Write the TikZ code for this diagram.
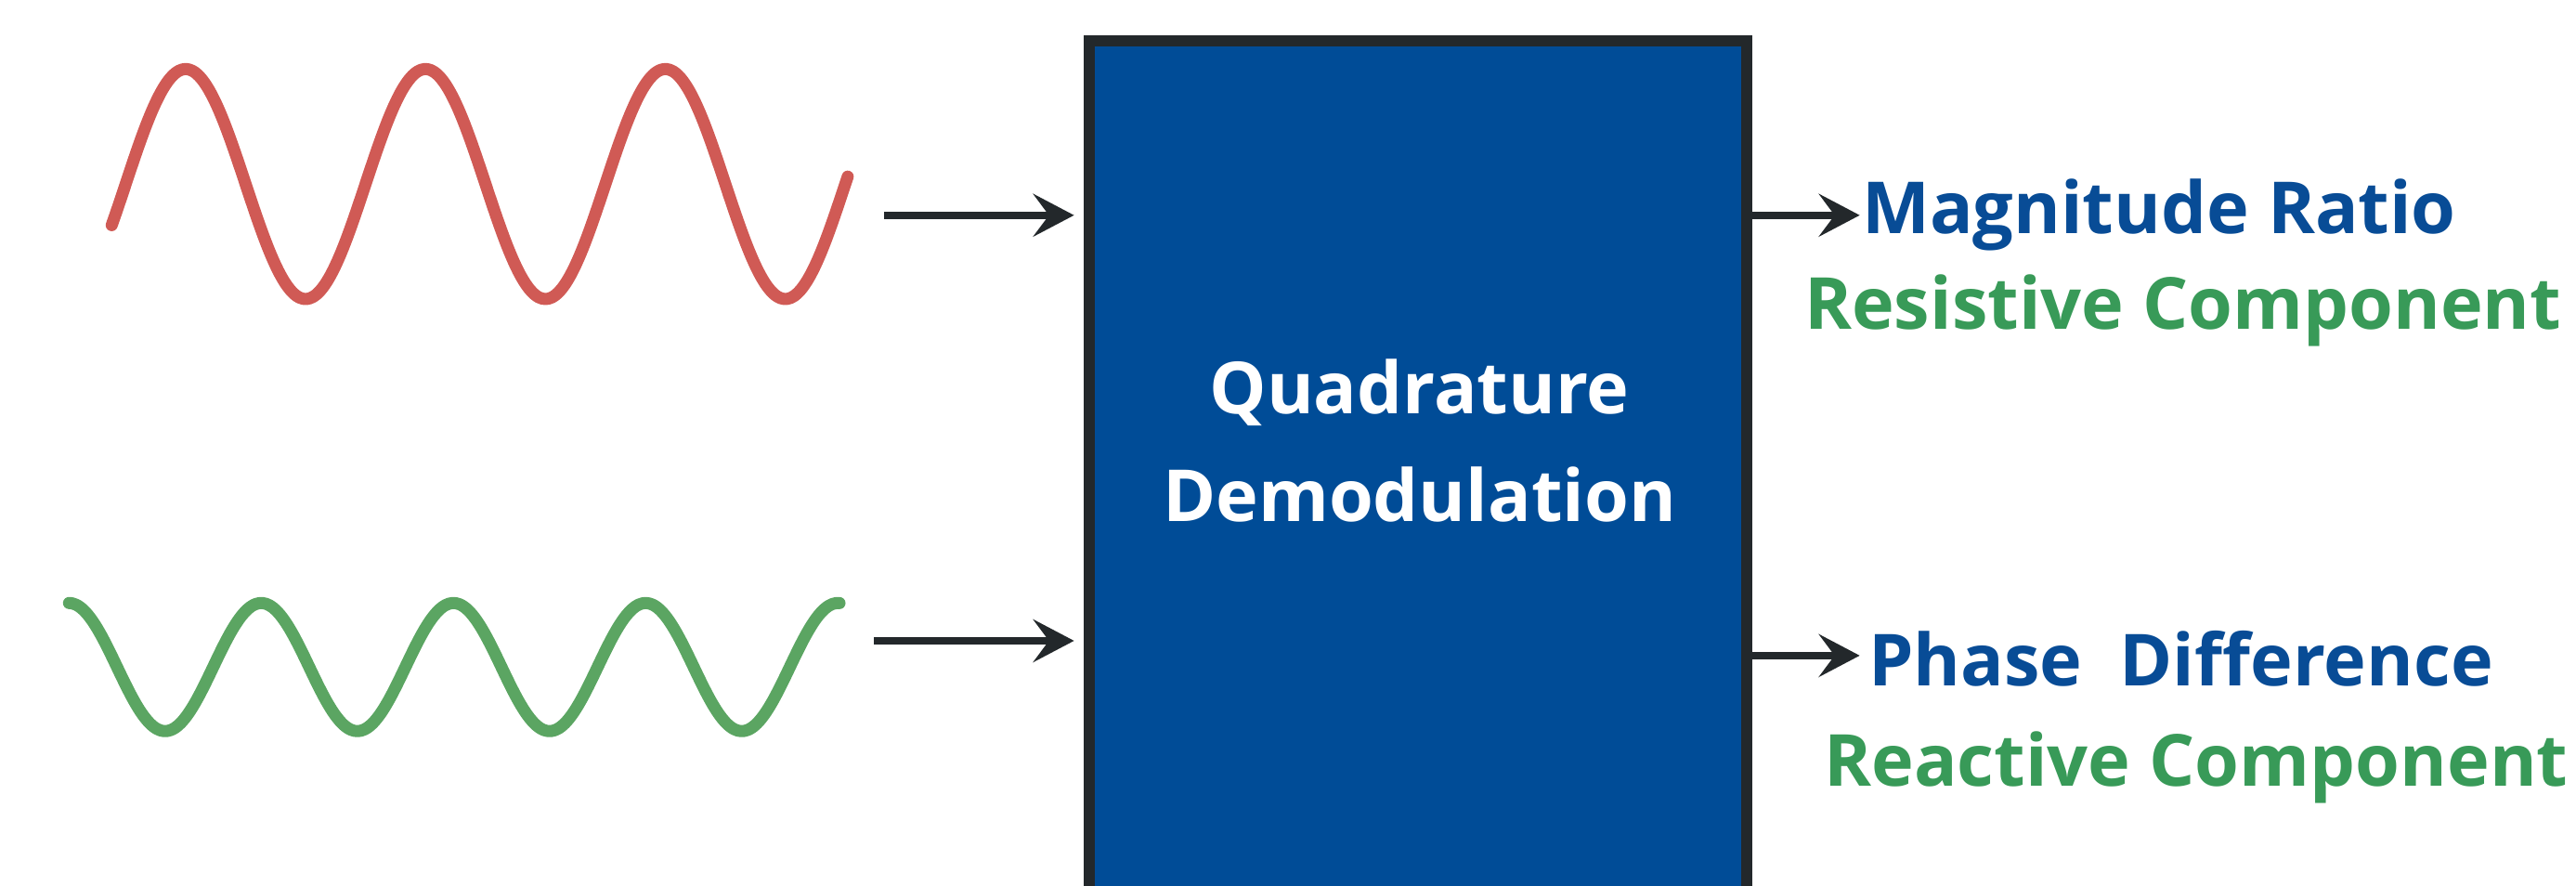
\documentclass[tikz,border=0pt]{standalone}
\usepackage{fontspec}
\setmainfont{Open Sans}
\usetikzlibrary{arrows.meta}
\definecolor{wavered}{RGB}{208,90,85}
\definecolor{wavegreen}{RGB}{91,165,98}
\definecolor{boxblue}{RGB}{0,76,151}
\definecolor{darkline}{RGB}{35,40,43}
\definecolor{txtblue}{RGB}{8,76,150}
\definecolor{txtgreen}{RGB}{56,154,88}
\tikzset{
  wave/.style={line width=3.7pt, line cap=round, line join=round},
  arr/.style={darkline, line width=2.2pt, -{Stealth[length=0.44cm, width=0.46cm, inset=0.17cm]}},
  blockbox/.style={draw=darkline, fill=boxblue, line width=3.4pt, outer sep=0pt, inner sep=0pt,
    minimum width=7.08cm, minimum height=10.4cm, anchor=north},
  blocktext/.style={text=white, font=\bfseries\fontsize{22}{33}\selectfont, align=center},
  outblue/.style={text=txtblue, font=\bfseries\fontsize{22}{26}\selectfont, anchor=west, inner sep=0pt},
  outgreen/.style={text=txtgreen, font=\bfseries\fontsize{22}{26}\selectfont, anchor=west, inner sep=0pt}
}
\begin{document}
\begin{tikzpicture}[x=0.01769cm, y=-0.01769cm]
\useasboundingbox (0,0) rectangle (1568,539);
\clip (0,0) rectangle (1568,539);
% waves
\draw[wave, wavered] plot[domain=68:516, samples=220, smooth] (\x, {112-70*cos(2.46575*(\x-113))});
\draw[wave, wavegreen] plot[domain=42:511, samples=220, smooth] (\x, {406-39*cos(3.07692*(\x-159))});
% block
\node[blockbox] (qd) at (863,25) {};
\node[blocktext] (qdlabel) at (864,268) {Quadrature\\Demodulation};
% coordinates
\coordinate (in1) at (538,131);
\coordinate (in2) at (532,390);
\coordinate (out1) at (1132,131);
\coordinate (out2) at (1132,399);
% input arrows
\draw[arr, shorten >=0.16cm] (in1) -- (qd.west |- in1);
\draw[arr, shorten >=0.16cm] (in2) -- (qd.west |- in2);
% output arrows
\draw[arr] (qd.east |- out1) -- (out1);
\draw[arr] (qd.east |- out2) -- (out2);
% labels
\node[outblue] (mag) at (1133,131) {Magnitude Ratio};
\node[outgreen] (res) at (1098,189) {Resistive Component};
\node[outblue] (pha) at (1137,401) {Phase\ \ Difference};
\node[outgreen] (rea) at (1110,467) {Reactive Component};
\end{tikzpicture}
\end{document}
